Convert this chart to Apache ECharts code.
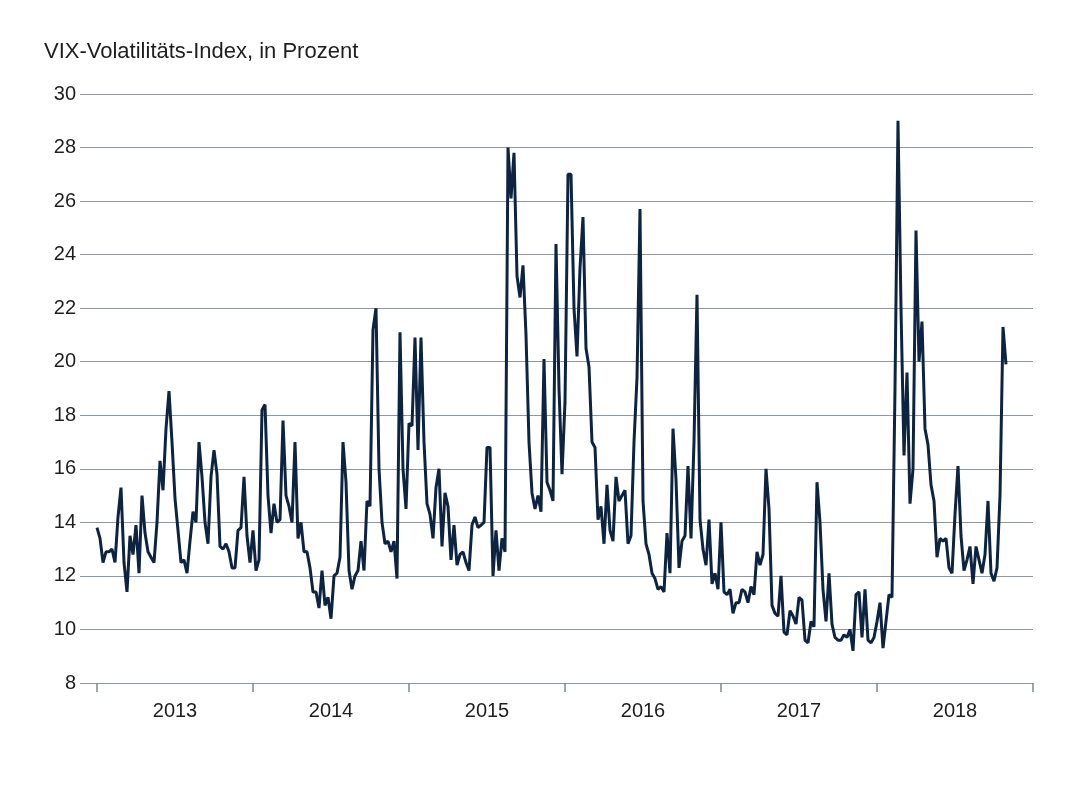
<!DOCTYPE html>
<html>
<head>
<meta charset="utf-8">
<title>VIX</title>
<script src="https://cdn.jsdelivr.net/npm/echarts@6/dist/echarts.min.js"></script>
<style>html,body{margin:0;padding:0;background:#fff}#chart{width:1076px;height:801px}</style>
</head>
<body>
<div id="chart"></div>
<script>
// weekly VIX closes, starting first week of 2013
var startYear = 2013;
var weekly = [
  // 2013
  13.8,13.4,12.5,12.9,12.9,13.0,12.5,14.2,15.3,12.5,11.4,13.5,12.8,13.9,12.1,15.0,13.6,12.9,12.7,12.5,14.0,16.3,15.2,17.5,18.9,17.0,
  14.9,13.7,12.5,12.6,12.1,13.3,14.4,14.0,17.0,15.7,14.0,13.2,15.7,16.7,15.8,13.1,13.0,13.2,12.9,12.3,12.3,13.7,13.8,15.7,13.5,12.5,
  // 2014
  13.7,12.2,12.6,18.2,18.4,15.0,13.6,14.7,14.0,14.1,17.8,15.0,14.6,14.0,17.0,13.4,14.0,12.9,12.9,12.3,11.4,11.4,10.8,12.2,10.9,11.2,
  10.4,12.0,12.1,12.7,17.0,15.5,12.2,11.5,12.0,12.2,13.3,12.2,14.8,14.6,21.2,22.0,16.0,14.0,13.2,13.3,12.9,13.3,11.9,21.1,16.0,14.5,
  // 2015
  17.7,17.6,20.9,16.7,20.9,17.0,14.7,14.3,13.4,15.3,16.0,13.1,15.1,14.6,12.6,13.9,12.4,12.8,12.9,12.5,12.2,13.9,14.2,13.8,13.9,14.0,
  16.8,16.8,12.0,13.7,12.2,13.4,12.9,28.0,26.1,27.8,23.2,22.4,23.6,21.0,17.0,15.1,14.5,15.0,14.4,20.1,15.5,15.2,14.8,24.4,19.0,15.8,
  // 2016
  18.5,27.0,27.0,22.0,20.2,23.5,25.4,20.5,19.8,17.0,16.8,14.1,14.6,13.2,15.4,13.7,13.3,15.7,14.8,15.0,15.2,13.2,13.5,17.0,19.4,25.7,
  14.8,13.2,12.8,12.1,11.9,11.5,11.6,11.4,13.6,12.1,17.5,15.6,12.3,13.3,13.5,16.1,13.4,17.0,22.5,14.1,13.0,12.4,14.1,11.7,12.1,11.5,
  // 2017
  14.0,11.4,11.3,11.5,10.6,11.0,11.0,11.5,11.4,11.0,11.6,11.3,12.9,12.4,12.8,16.0,14.5,10.9,10.6,10.5,12.0,9.9,9.8,10.7,10.5,10.2,
  11.2,11.1,9.6,9.5,10.3,10.1,15.5,14.0,11.5,10.3,12.1,10.2,9.7,9.6,9.6,9.8,9.7,10.0,9.2,11.3,11.4,9.7,11.5,9.6,9.5,9.7,10.3,
  // 2018
  11.0,9.3,10.3,11.3,11.2,19.0,29.0,22.0,16.5,19.6,14.7,16.0,24.9,20.0,21.5,17.5,16.9,15.4,14.8,12.7,13.4,13.3,13.4,12.3,12.1,14.3,
  16.1,13.5,12.2,12.6,13.1,11.7,13.1,12.6,12.1,12.8,14.8,12.1,11.8,12.3,15.0,21.3,19.9
];
var yearTicks = [2013, 2014, 2015, 2016, 2017, 2018, 2019];
var yearLabels = [2013.5, 2014.5, 2015.5, 2016.5, 2017.5, 2018.5];

var seriesData = weekly.map(function (v, i) { return [startYear + i / 52, v]; });

var chart = echarts.init(document.getElementById('chart'));
var font = 'Liberation Sans, Arial, sans-serif';
chart.setOption({
  animation: false,
  textStyle: { fontFamily: font },
  title: {
    text: 'VIX-Volatilitäts-Index, in Prozent',
    left: 39, top: 36,
    textStyle: { fontFamily: font, fontSize: 22, fontWeight: 'normal', color: '#1e1e1e' }
  },
  grid: { left: 80, right: 43, top: 94, bottom: 118 },
  xAxis: {
    type: 'value',
    min: 2013 - 17 / 156, max: 2019,
    splitLine: { show: false },
    axisLine: { show: false },
    axisTick: { show: true, customValues: yearTicks, length: 9, lineStyle: { color: '#7d8894', width: 1.5 } },
    axisLabel: {
      customValues: yearLabels, margin: 18, fontSize: 20, color: '#1e1e1e', fontFamily: font,
      formatter: function (v) { return String(Math.floor(v)); }
    }
  },
  yAxis: {
    type: 'value', min: 8, max: 30, interval: 2,
    axisLine: { show: false }, axisTick: { show: false },
    axisLabel: { fontSize: 20, color: '#1e1e1e', margin: 4, fontFamily: font, align: 'right' },
    splitLine: { lineStyle: { color: '#8b97a3', width: 1.2 } }
  },
  series: [{
    type: 'line',
    data: seriesData,
    showSymbol: false,
    lineStyle: { color: '#0c2341', width: 3 }
  }]
});
</script>
</body>
</html>
